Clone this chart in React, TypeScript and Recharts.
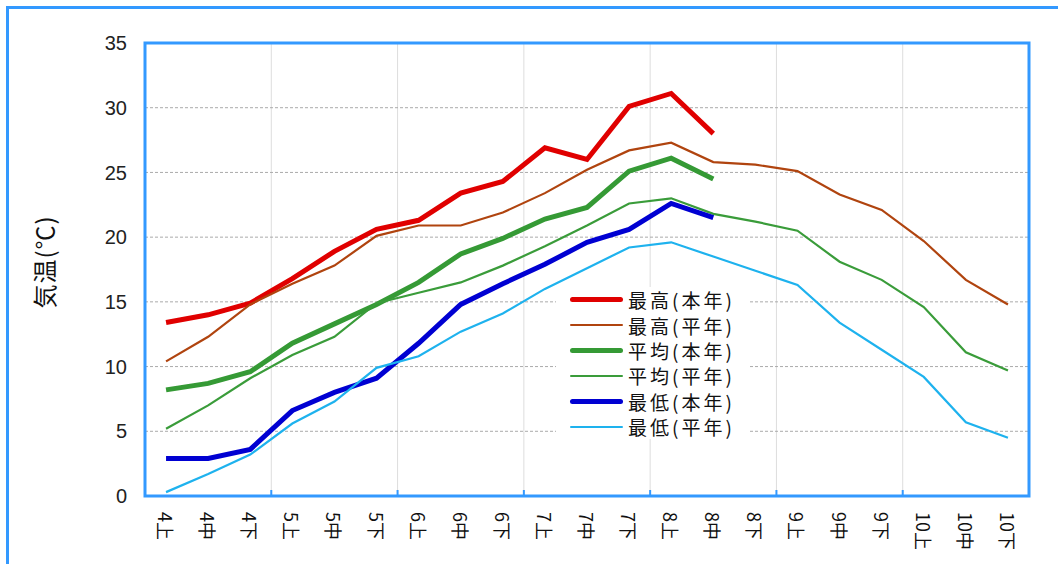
import {
  LineChart,
  Line,
  XAxis,
  YAxis,
  CartesianGrid,
  ReferenceArea,
} from "recharts";

const categories = [
  "4上", "4中", "4下", "5上", "5中", "5下", "6上", "6中", "6下", "7上", "7中",
  "7下", "8上", "8中", "8下", "9上", "9中", "9下", "10上", "10中", "10下",
];

// 本年 runs up to 8中, 平年 covers the whole season
const maxThisYear = [13.4, 14.0, 14.9, 16.8, 18.9, 20.6, 21.3, 23.4, 24.3, 26.9, 26.0, 30.1, 31.1, 28.0];
const maxNormal = [
  10.4, 12.3, 14.8, 16.4, 17.8, 20.1, 20.9, 20.9, 21.9, 23.4, 25.2, 26.7, 27.3, 25.8, 25.6, 25.1, 23.3,
  22.1, 19.7, 16.7, 14.8,
];
const avgThisYear = [8.2, 8.7, 9.6, 11.8, 13.3, 14.8, 16.5, 18.7, 19.9, 21.4, 22.3, 25.1, 26.1, 24.5];
const avgNormal = [
  5.2, 7.0, 9.1, 10.9, 12.3, 14.9, 15.7, 16.5, 17.8, 19.3, 20.9, 22.6, 23.0, 21.8, 21.2, 20.5, 18.1,
  16.7, 14.6, 11.1, 9.7,
];
const minThisYear = [2.9, 2.9, 3.6, 6.6, 8.0, 9.1, 11.8, 14.8, 16.4, 17.9, 19.6, 20.6, 22.6, 21.5];
const minNormal = [
  0.3, 1.7, 3.2, 5.6, 7.3, 9.9, 10.8, 12.7, 14.1, 16.0, 17.6, 19.2, 19.6, 18.5, 17.4, 16.3, 13.4, 11.3,
  9.2, 5.7, 4.5,
];

const yTicks = [0, 5, 10, 15, 20, 25, 30, 35];
// month boundaries, counted in 旬 slots
const monthBoundaries = [3, 6, 9, 12, 15, 18];

const series = [
  { key: "maxThis", name: "最高(本年)", values: maxThisYear, color: "#e00000", width: 5 },
  { key: "maxNorm", name: "最高(平年)", values: maxNormal, color: "#b0440f", width: 2.2 },
  { key: "avgThis", name: "平均(本年)", values: avgThisYear, color: "#359a35", width: 5 },
  { key: "avgNorm", name: "平均(平年)", values: avgNormal, color: "#3a9c3a", width: 2.2 },
  { key: "minThis", name: "最低(本年)", values: minThisYear, color: "#0000d2", width: 5 },
  { key: "minNorm", name: "最低(平年)", values: minNormal, color: "#1eb2ee", width: 2.2 },
];

const data = categories.map((label, i) => {
  const row: Record<string, string | number | null> = { label };
  series.forEach((s) => {
    row[s.key] = i < s.values.length ? s.values[i] : null;
  });
  return row;
});

const BLUE = "#3399ff";
const JP = "'Noto Sans CJK JP', sans-serif";

function RotatedTick(props: any) {
  const { x, y, payload } = props;
  return (
    <text
      transform={`translate(${x},${y + 8}) rotate(90)`}
      textAnchor="start"
      dominantBaseline="central"
      fontSize={18}
      fontFamily={JP}
      fill="#111"
    >
      {payload.value}
    </text>
  );
}

export default function App() {
  return (
    <div style={{ position: "absolute", left: 0, top: 0, width: 1058, height: 564, background: "#fff", overflow: "hidden" }}>
      <div
        style={{
          position: "absolute",
          left: 6,
          top: 6,
          width: 1100,
          height: 620,
          border: `3px solid ${BLUE}`,
          boxSizing: "border-box",
        }}
      />
      <div style={{ position: "absolute", left: 0, top: 0 }}>
        <LineChart width={1058} height={564} data={data} margin={{ top: 43, right: 29, left: 85, bottom: 0 }}>
          <CartesianGrid xAxisId="m" horizontal={false} stroke="#dddddd" strokeWidth={1} />
          <CartesianGrid xAxisId="m" vertical={false} stroke="#aaaaaa" strokeDasharray="3 2" />
          <XAxis
            xAxisId="cat"
            dataKey="label"
            type="category"
            scale="band"
            interval={0}
            height={68}
            axisLine={false}
            tickLine={false}
            tick={<RotatedTick />}
          />
          <XAxis
            xAxisId="m"
            dataKey="slot"
            type="number"
            domain={[0, 21]}
            allowDataOverflow
            ticks={monthBoundaries}
            mirror
            axisLine={false}
            tickLine={{ stroke: BLUE, strokeWidth: 2 }}
            tickSize={6}
            tickFormatter={() => ""}
          />
          <YAxis
            domain={[0, 35]}
            ticks={yTicks}
            width={60}
            axisLine={false}
            tickLine={false}
            tickMargin={12}
            tick={{ fontSize: 20, fill: "#222", fontFamily: "'Liberation Sans', sans-serif" }}
          />
          <ReferenceArea
            xAxisId="m"
            x1={0}
            x2={21}
            y1={0}
            y2={35}
            fill="none"
            fillOpacity={0}
            stroke={BLUE}
            strokeWidth={3}
            ifOverflow="visible"
          />
          {series.map((s) => (
            <Line
              key={s.key}
              xAxisId="cat"
              type="linear"
              dataKey={s.key}
              name={s.name}
              stroke={s.color}
              strokeWidth={s.width}
              dot={false}
              activeDot={false}
              isAnimationActive={false}
            />
          ))}
        </LineChart>
      </div>
      <div
        style={{
          position: "absolute",
          left: 43,
          top: 262,
          transform: "translate(-50%, -50%) rotate(-90deg)",
          fontFamily: JP,
          fontSize: 24,
          letterSpacing: 1,
          color: "#111",
          whiteSpace: "nowrap",
        }}
      >
        気温(℃)
      </div>
      <div
        style={{
          position: "absolute",
          left: 556,
          top: 287,
          width: 194,
          background: "#fff",
          fontFamily: JP,
          fontSize: 19,
          letterSpacing: 3,
          color: "#111",
        }}
      >
        {series.map((s) => (
          <div key={s.key} style={{ display: "flex", alignItems: "center", height: 25.4 }}>
            <div
              style={{
                width: 53,
                height: s.width,
                background: s.color,
                borderRadius: s.width / 2,
                marginLeft: 14,
                marginRight: 5,
              }}
            />
            <span style={{ lineHeight: "25px" }}>{s.name}</span>
          </div>
        ))}
      </div>
    </div>
  );
}
